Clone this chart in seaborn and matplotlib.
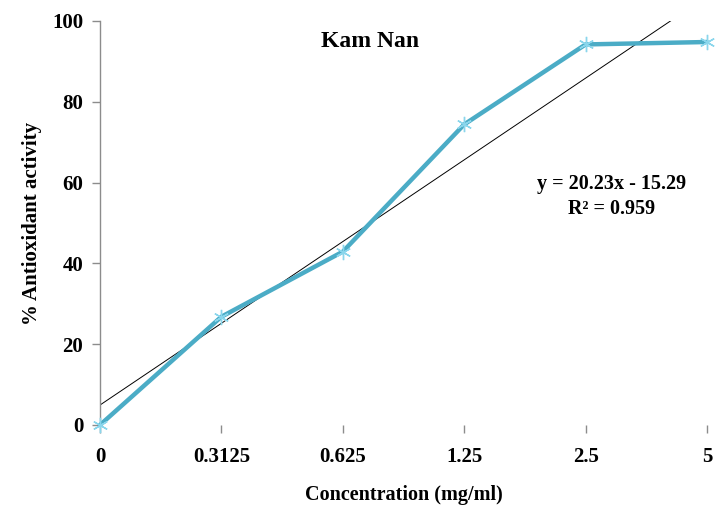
import numpy as np
import pandas as pd
import matplotlib
matplotlib.use("Agg")
import matplotlib.pyplot as plt
import seaborn as sns

# Data
concentrations = ["0", "0.3125", "0.625", "1.25", "2.5", "5"]
activity = [0.0, 26.8, 42.9, 74.4, 94.2, 94.8]
slope = 20.23
intercept = -15.29
r_squared = 0.959
title = "Kam Nan"

sns.set_theme(style="white")
plt.rcParams["font.family"] = ["Liberation Serif", "DejaVu Serif"]
plt.rcParams["font.weight"] = "bold"
plt.rcParams["text.color"] = "black"
plt.rcParams["axes.labelcolor"] = "black"
plt.rcParams["xtick.labelcolor"] = "black"
plt.rcParams["ytick.labelcolor"] = "black"

fig = plt.figure(figsize=(7.2, 5.07), dpi=100)
ax = fig.add_axes([100/720, 1-425/507, 607/720, 404/507])

pos = np.arange(len(concentrations))
df = pd.DataFrame({"pos": pos, "activity": activity})

# trendline (Excel numbering of categories starts at 1)
tx = np.linspace(0, len(concentrations) - 1, 50)
trend = pd.DataFrame({"pos": tx, "y": slope * (tx + 1) + intercept})
sns.lineplot(data=trend, x="pos", y="y", ax=ax, color="black", linewidth=0.7, zorder=2)

sns.lineplot(data=df, x="pos", y="activity", ax=ax, color="#4BACC6", linewidth=3.2,
             marker=(6, 2, 0), markersize=11, markeredgecolor="#8AD6EC",
             markeredgewidth=1.0, zorder=3, clip_on=False)

ax.set_xlim(0, len(concentrations) - 1)
ax.set_ylim(0, 100)
ax.set_yticks([0, 20, 40, 60, 80, 100])
ax.set_xticks(pos)
ax.set_xticklabels(concentrations)

for s in ["top", "right", "bottom"]:
    ax.spines[s].set_visible(False)
ax.spines["left"].set_color("#8c8c8c")
ax.spines["left"].set_linewidth(1.0)

ax.tick_params(axis="y", which="major", direction="out", length=6, width=1,
               color="#8c8c8c", labelsize=15, pad=6, left=True, labelcolor="black")
ax.tick_params(axis="x", which="major", direction="out", length=6, width=1,
               color="#8c8c8c", labelsize=15, pad=10, bottom=True, labelcolor="black")
for lab in ax.get_xticklabels() + ax.get_yticklabels():
    lab.set_fontweight("bold")

ax.set_xlabel("Concentration (mg/ml)", fontsize=14.5, fontweight="bold", labelpad=13,
              color="black")
ax.set_ylabel("% Antioxidant activity", fontsize=15, fontweight="bold", labelpad=7,
              color="black")

ax.text(0.445, 0.975, title, transform=ax.transAxes, ha="center", va="top",
        fontsize=17, fontweight="bold", color="black")
ax.text(0.842, 0.566, f"y = {slope}x - {abs(intercept)}\nR² = {r_squared}",
        transform=ax.transAxes, ha="center", va="center", fontsize=14.5,
        fontweight="bold", linespacing=1.3, color="black")

fig.savefig("out.png", dpi=100)
